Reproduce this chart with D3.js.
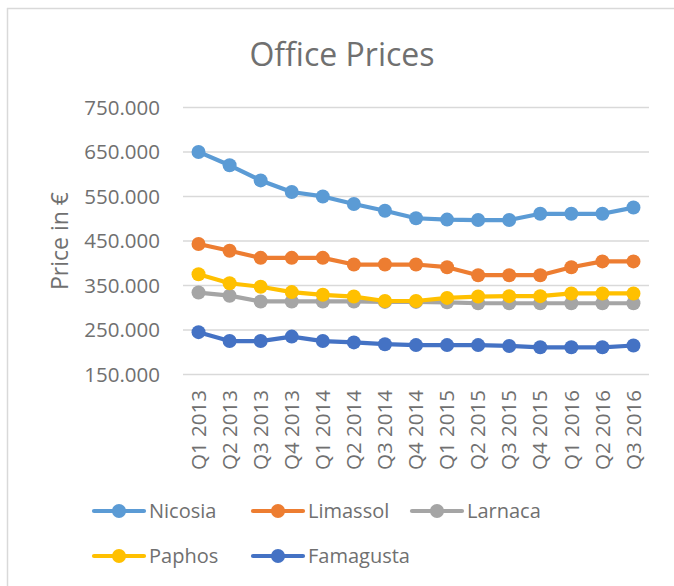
<!DOCTYPE html>
<html><head><meta charset="utf-8">
<script src="https://cdn.jsdelivr.net/npm/d3@7"></script>
<style>
html,body{margin:0;padding:0;background:#fff;}
svg{display:block;font-family:"Open Sans", sans-serif;}
</style></head>
<body>
<svg id="chart" width="674" height="586"></svg>
<script>
const categories = ["Q1 2013","Q2 2013","Q3 2013","Q4 2013","Q1 2014","Q2 2014","Q3 2014","Q4 2014","Q1 2015","Q2 2015","Q3 2015","Q4 2015","Q1 2016","Q2 2016","Q3 2016"];
const seriesNames = ["Nicosia","Limassol","Larnaca","Paphos","Famagusta"];
const seriesColors = ["#5B9BD5","#ED7D31","#A5A5A5","#FFC000","#4472C4"];
const nicosia   = [649000,619000,585000,559000,549000,532000,517000,500000,497000,496000,496000,510000,510000,510000,524000];
const limassol  = [442000,427000,411000,411000,411000,396000,396000,396000,390000,372000,372000,372000,390000,403000,403000];
const larnaca   = [333000,326000,313000,313000,313000,313000,312000,312000,311000,309000,309000,309000,309000,309000,309000];
const paphos    = [374000,354000,346000,334000,328000,324000,314000,314000,321000,324000,325000,325000,331000,331000,331000];
const famagusta = [244000,224000,224000,234000,224000,221000,217000,215000,215000,215000,213000,210000,210000,210000,214000];
const yTicks = [150000,250000,350000,450000,550000,650000,750000];
const title = "Office Prices";
const yTitle = "Price in €";

const values = [nicosia, limassol, larnaca, paphos, famagusta];
const textColor = "#707070";
const FONT = "Open Sans";

const svg = d3.select("#chart");

// chart area border (left and top visible)
svg.append("line").attr("x1",7.5).attr("x2",7.5).attr("y1",8).attr("y2",586).attr("stroke","#d9d9d9").attr("stroke-width",1.5);
svg.append("line").attr("x1",7).attr("x2",674).attr("y1",8.5).attr("y2",8.5).attr("stroke","#d9d9d9").attr("stroke-width",1.5);

const plot = {left:183, right:649, top:107, bottom:374};

const x = d3.scaleBand().domain(categories).range([plot.left, plot.right]);
const y = d3.scaleLinear().domain([150000,750000]).range([plot.bottom, plot.top]);

const fmt = d3.formatLocale({decimal:",", thousands:".", grouping:[3], currency:["€",""]}).format(",d");

// gridlines + y labels
const yAxis = d3.axisLeft(y).tickValues(yTicks).tickFormat(fmt).tickSize(-(plot.right-plot.left)).tickPadding(23);
const gy = svg.append("g").attr("transform",`translate(${plot.left},0)`).call(yAxis);
gy.select(".domain").remove();
gy.selectAll(".tick line").attr("stroke","#d9d9d9").attr("stroke-width",1.5);
gy.selectAll(".tick text").attr("fill",textColor).attr("font-size",20.5).attr("font-family",FONT).attr("dy","0.35em");

// x labels
const xAxis = d3.axisBottom(x).tickSize(0).tickPadding(0);
const gx = svg.append("g").attr("transform",`translate(0,${plot.bottom})`).call(xAxis);
gx.select(".domain").remove();
gx.selectAll(".tick text")
  .attr("fill",textColor).attr("font-size",20.5).attr("font-family",FONT)
  .attr("text-anchor","end")
  .attr("transform","translate(0,16) rotate(-90)")
  .attr("x",0).attr("y",0).attr("dy","0.35em");

// series
const line = d3.line().x((d,i)=>x(categories[i])+x.bandwidth()/2).y(d=>y(d));
values.forEach((vals, si) => {
  const g = svg.append("g");
  g.append("path").datum(vals).attr("d",line).attr("fill","none")
    .attr("stroke",seriesColors[si]).attr("stroke-width",4.2).attr("stroke-linejoin","round").attr("stroke-linecap","round");
  g.selectAll("circle").data(vals).join("circle")
    .attr("cx",(d,i)=>x(categories[i])+x.bandwidth()/2).attr("cy",d=>y(d)).attr("r",7)
    .attr("fill",seriesColors[si]);
});

// title
svg.append("text").attr("x",342).attr("y",66).attr("text-anchor","middle")
  .attr("font-size",32).attr("fill",textColor).attr("font-family",FONT).text(title);

// y title
svg.append("text").attr("transform","translate(68,241) rotate(-90)").attr("text-anchor","middle")
  .attr("font-size",23).attr("fill",textColor).attr("font-family",FONT).text(yTitle);

// legend
const legX = [94, 253, 412];
const legY = [511, 556];
seriesNames.forEach((name, i) => {
  const col = i % 3, row = Math.floor(i / 3);
  const lx = legX[col], ly = legY[row];
  const g = svg.append("g");
  g.append("line").attr("x1",lx).attr("x2",lx+50).attr("y1",ly).attr("y2",ly)
    .attr("stroke",seriesColors[i]).attr("stroke-width",4.2).attr("stroke-linecap","round");
  g.append("circle").attr("cx",lx+25).attr("cy",ly).attr("r",7).attr("fill",seriesColors[i]);
  g.append("text").attr("x",lx+55).attr("y",ly).attr("dy","0.35em")
    .attr("font-size",20).attr("fill",textColor).attr("font-family",FONT).text(name);
});
</script>
</body></html>
